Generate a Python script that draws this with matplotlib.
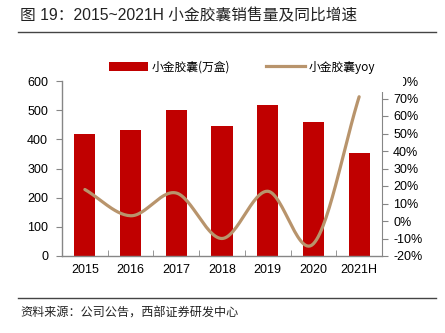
import numpy as np
import matplotlib
matplotlib.use("Agg")
import matplotlib.pyplot as plt
from matplotlib.patches import Patch, Rectangle
from matplotlib.lines import Line2D
from matplotlib.ticker import FuncFormatter

plt.rcParams['font.family'] = ['Liberation Sans', 'Noto Sans CJK SC', 'DejaVu Sans']

categories = ['2015', '2016', '2017', '2018', '2019', '2020', '2021H']
sales = [419, 431, 499, 447, 519, 460, 354]          # 万盒
yoy = [18, 3, 16, -10, 17, -13, 71]                   # %

title = '图 19：2015~2021H 小金胶囊销售量及同比增速'
source = '资料来源：公司公告，西部证券研发中心'
bar_label = '小金胶囊(万盒)'
line_label = '小金胶囊yoy'

W, H = 445, 333
fig = plt.figure(figsize=(W / 100, H / 100), dpi=100)

bar_color = '#C00000'
line_color = '#B8946C'
axis_color = '#868686'

def fx(px):
    return px / W

def fy(py):
    return 1 - py / H

ax = fig.add_axes([fx(62), fy(256), fx(382) - fx(62), fy(81) - fy(256)])
x = np.arange(len(categories))
ax.bar(x, sales, width=0.46, color=bar_color, zorder=2)
ax.set_xlim(-0.5, len(categories) - 0.5)
ax.set_ylim(0, 600)
ax.set_yticks(range(0, 601, 100))
ax.set_xticks(x)
ax.set_xticklabels(categories)
ax.set_xticks(np.arange(-0.5, len(categories), 1.0), minor=True)
ax.tick_params(axis='x', which='major', length=0, pad=6, labelsize=9)
ax.tick_params(axis='x', which='minor', length=4, direction='in', color=axis_color)
ax.tick_params(axis='y', length=4, direction='out', color=axis_color, labelsize=9, pad=6)
for s in ['top', 'right']:
    ax.spines[s].set_visible(False)
for s in ['left', 'bottom']:
    ax.spines[s].set_color(axis_color)
    ax.spines[s].set_linewidth(1.0)

ax2 = ax.twinx()
ax2.set_ylim(-20, 80)
ax2.set_yticks(range(-20, 81, 10))
ax2.yaxis.set_major_formatter(FuncFormatter(lambda v, p: f'{int(v)}%'))
ax2.tick_params(axis='y', length=4, direction='out', color=axis_color, labelsize=9, pad=4)
for s in ['top', 'left', 'bottom']:
    ax2.spines[s].set_visible(False)
ax2.spines['right'].set_color(axis_color)

# smooth curve through the data points (Catmull-Rom rendering)
pts = np.column_stack([x.astype(float), np.array(yoy, dtype=float)])
ext = np.vstack([2 * pts[0] - pts[1], pts, 2 * pts[-1] - pts[-2]])
curve = []
for i in range(1, len(ext) - 2):
    p0, p1, p2, p3 = ext[i - 1], ext[i], ext[i + 1], ext[i + 2]
    t = np.linspace(0, 1, 30)[:, None]
    seg = 0.5 * ((2 * p1) + (-p0 + p2) * t + (2 * p0 - 5 * p1 + 4 * p2 - p3) * t ** 2
                 + (-p0 + 3 * p1 - 3 * p2 + p3) * t ** 3)
    curve.append(seg)
curve = np.vstack(curve)
ax2.plot(curve[:, 0], curve[:, 1], color=line_color, lw=2.3, solid_capstyle='round', zorder=3)

# white legend area (covers the top of the right axis, as in the source)
fig.add_artist(Rectangle((fx(100), fy(92)), fx(403) - fx(100), fy(55) - fy(92),
                         transform=fig.transFigure, facecolor='white',
                         edgecolor='none', zorder=9))

handles = [Patch(facecolor=bar_color, edgecolor='none'),
           Line2D([0], [0], color=line_color, lw=2.3)]
leg = fig.legend(handles, [bar_label, line_label], loc='center',
                 bbox_to_anchor=(fx(242), fy(67)), ncol=2, frameon=False,
                 handlelength=3.3, handleheight=0.9, columnspacing=3.0,
                 handletextpad=0.3, borderpad=0.3,
                 prop={'family': ['Noto Sans CJK SC', 'DejaVu Sans'], 'size': 8.5})
leg.set_zorder(10)

fig.text(fx(20), fy(16), title, fontsize=11.3, va='center', ha='left', color='#222222',
         family=['Liberation Sans', 'Noto Sans CJK SC'])
fig.add_artist(Line2D([fx(18), fx(436)], [fy(32), fy(32)], color='#444444', lw=1.0))
fig.add_artist(Line2D([fx(18), fx(436)], [fy(298), fy(298)], color='#444444', lw=1.0))
fig.text(fx(20), fy(313), source, fontsize=8.7, va='center', ha='left', color='#222222',
         family=['Noto Sans CJK SC', 'DejaVu Sans'])

fig.savefig('out.png', dpi=100)
